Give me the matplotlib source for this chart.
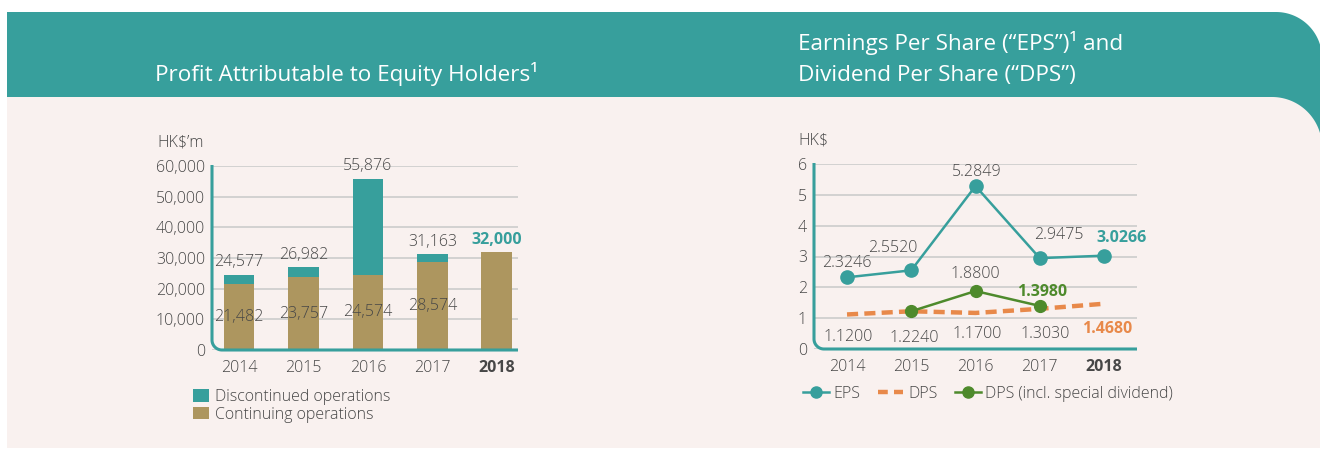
import numpy as np
import matplotlib
matplotlib.use('Agg')
import matplotlib.pyplot as plt
from matplotlib.lines import Line2D
from matplotlib.patches import Polygon, Patch

# --- data ---
years = ['2014', '2015', '2016', '2017', '2018']
total_profit = [24577, 26982, 55876, 31163, 32000]
continuing = [21482, 23757, 24574, 28574, 32000]
discontinued = [t - c for t, c in zip(total_profit, continuing)]

eps = [2.3246, 2.5520, 5.2849, 2.9475, 3.0266]
dps = [1.1200, 1.2240, 1.1700, 1.3030, 1.4680]
dps_special_idx = [1, 2, 3]
dps_special = [1.2240, 1.8800, 1.3980]

# --- style ---
TEAL = '#379f9c'
TAN = '#ad965f'
ORANGE = '#e8894a'
GREEN = '#4e8a2c'
PINK = '#f9f1ef'
GRID = '#cccccc'
TXT = '#474747'

plt.rcParams['font.family'] = ['Open Sans', 'DejaVu Sans']
plt.rcParams['font.weight'] = 'light'
FS = 11.5

W, H = 1320, 449
fig = plt.figure(figsize=(W / 100, H / 100), dpi=100, facecolor='white')


def px_axes(x0, y0, x1, y1, **kw):
    return fig.add_axes([x0 / W, 1 - y1 / H, (x1 - x0) / W, (y1 - y0) / H], **kw)


def round_tr(x0, y0, x1, y1, r):
    # rectangle with rounded top-right corner, pixel coords (y down)
    t = np.linspace(np.pi / 2, 0, 40)
    arc = np.column_stack([x1 - r + r * np.cos(t), y0 + r - r * np.sin(t)])
    return np.vstack([[(x0, y1), (x0, y0)], arc, [(x1, y1)]])


def corner_axis(x0, ytop, ybot, xright, r):
    t = np.linspace(np.pi, np.pi / 2, 30)
    arc = np.column_stack([x0 + r + r * np.cos(t), ybot - r + r * np.sin(t)])
    pts = np.vstack([[(x0, ytop)], arc, [(xright, ybot)]])
    return pts[:, 0], pts[:, 1]


# background banner + panel
bg = fig.add_axes([0, 0, 1, 1], zorder=-10)
bg.set_xlim(0, W)
bg.set_ylim(H, 0)
bg.axis('off')
bg.add_patch(Polygon(round_tr(7, 12, 1322, 150, 46), closed=True, fc=TEAL, ec='none'))
bg.add_patch(Polygon(round_tr(7, 97, 1322, 448, 50), closed=True, fc=PINK, ec='none'))

TFS = 16.2
bg.text(155, 81, 'Profit Attributable to Equity Holders\u00b9', color='white',
        fontsize=TFS, fontweight='normal', ha='left', va='baseline')
bg.text(798, 50, 'Earnings Per Share (\u201cEPS\u201d)\u00b9 and', color='white',
        fontsize=TFS, fontweight='normal', ha='left', va='baseline')
bg.text(798, 81, 'Dividend Per Share (\u201cDPS\u201d)', color='white',
        fontsize=TFS, fontweight='normal', ha='left', va='baseline')

# ---------------- left chart ----------------
ax1 = px_axes(212, 166, 518, 350)
ax1.set_facecolor('none')
x = np.arange(len(years))
ax1.bar(x, continuing, width=0.48, color=TAN, zorder=2)
ax1.bar(x, discontinued, bottom=continuing, width=0.48, color=TEAL, zorder=2)
ax1.set_xlim(-0.419, 4.326)
ax1.set_ylim(0, 60000)
ax1.set_yticks(np.arange(0, 60001, 10000))
ax1.set_yticklabels([f'{v:,}' for v in range(0, 60001, 10000)])
ax1.set_xticks(x)
ax1.set_xticklabels(years)
ax1.get_xticklabels()[-1].set_fontweight('bold')
ax1.tick_params(axis='y', length=0, pad=5, labelsize=FS, labelcolor=TXT)
ax1.tick_params(axis='x', length=0, pad=7, labelsize=FS, labelcolor=TXT)
ax1.yaxis.grid(True, color=GRID, lw=1.2, zorder=0)
ax1.set_axisbelow(True)
for s in ax1.spines.values():
    s.set_visible(False)

for i, (t, c) in enumerate(zip(total_profit, continuing)):
    if i == len(years) - 1:
        ax1.annotate(f'{t:,}', (i, t), xytext=(0, 3), textcoords='offset points',
                     ha='center', va='bottom', fontsize=FS, color=TEAL, fontweight='bold')
    else:
        ax1.annotate(f'{t:,}', (i, t), xytext=(0, 3), textcoords='offset points',
                     ha='center', va='bottom', fontsize=FS, color=TXT)
        ax1.text(i, c / 2, f'{c:,}', ha='center', va='center', fontsize=FS, color=TXT, zorder=3)

lx, ly = corner_axis(212, 165, 350, 518, 10)
ax1.add_line(Line2D(lx, ly, color=TEAL, lw=2.2, transform=bg.transData, clip_on=False,
                    solid_capstyle='butt', zorder=5))
bg.text(157, 146, 'HK$\u2019m', fontsize=FS, color=TXT, ha='left', va='baseline')

fig.legend([Patch(fc=TEAL), Patch(fc=TAN)], ['Discontinued operations', 'Continuing operations'],
           loc='upper left', bbox_to_anchor=(193 / W, 1 - 389 / H), frameon=False,
           handlelength=1.0, handleheight=0.8, handletextpad=0.35, labelspacing=0.1,
           borderpad=0, borderaxespad=0, fontsize=FS, labelcolor=TXT)

# ---------------- right chart ----------------
ax2 = px_axes(814, 164, 1137, 349)
ax2.set_facecolor('none')
ax2.plot(x, dps, color=ORANGE, lw=3.2, dashes=(2.5, 1.4), solid_capstyle='butt',
         dash_capstyle='butt', zorder=3)
ax2.plot(x, eps, color=TEAL, lw=1.8, marker='o', ms=9.5, zorder=4)
ax2.plot(dps_special_idx, dps_special, color=GREEN, lw=1.8, marker='o', ms=8.5, zorder=5)
ax2.set_xlim(-0.514, 4.514)
ax2.set_ylim(0, 6)
ax2.set_yticks(range(0, 7))
ax2.set_xticks(x)
ax2.set_xticklabels(years)
ax2.get_xticklabels()[-1].set_fontweight('bold')
ax2.tick_params(axis='y', length=0, pad=5, labelsize=FS, labelcolor=TXT)
ax2.tick_params(axis='x', length=0, pad=7, labelsize=FS, labelcolor=TXT)
ax2.yaxis.grid(True, color=GRID, lw=1.2, zorder=0)
ax2.set_axisbelow(True)
for s in ax2.spines.values():
    s.set_visible(False)

# label offsets in points (dx, dy) relative to each point
eps_off = [(0, 10), (-13, 16), (1, 10), (14, 17), (13, 13)]
dps_off = [(1, -16), (2, -19), (1, -15), (4, -18), (2, -18)]
for i, v in enumerate(eps):
    bold = i == len(eps) - 1
    ax2.annotate(f'{v:.4f}', (i, v), xytext=eps_off[i], textcoords='offset points',
                 ha='center', va='center', fontsize=FS,
                 color=TEAL if bold else TXT, fontweight='bold' if bold else 'light')
for i, v in enumerate(dps):
    bold = i == len(dps) - 1
    ax2.annotate(f'{v:.4f}', (i, v), xytext=dps_off[i], textcoords='offset points',
                 ha='center', va='center', fontsize=FS,
                 color=ORANGE if bold else TXT, fontweight='bold' if bold else 'light')
sp_off = {2: (0, 12), 3: (2, 10)}
for i, v in zip(dps_special_idx, dps_special):
    if i not in sp_off:
        continue
    bold = i == 3
    ax2.annotate(f'{v:.4f}', (i, v), xytext=sp_off[i], textcoords='offset points',
                 ha='center', va='center', fontsize=FS,
                 color=GREEN if bold else TXT, fontweight='bold' if bold else 'light')

rx, ry = corner_axis(814, 163, 349, 1137, 10)
ax2.add_line(Line2D(rx, ry, color=TEAL, lw=2.2, transform=bg.transData, clip_on=False,
                    solid_capstyle='butt', zorder=6))
bg.text(798, 144, 'HK$', fontsize=FS, color=TXT, ha='left', va='baseline')

handles = [
    Line2D([], [], color=TEAL, lw=1.8, marker='o', ms=8),
    Line2D([], [], color=ORANGE, lw=3.2, dashes=(2.2, 1.4), dash_capstyle='butt'),
    Line2D([], [], color=GREEN, lw=1.8, marker='o', ms=8),
]
fig.legend(handles, ['EPS', 'DPS', 'DPS (incl. special dividend)'], ncol=3,
           loc='upper left', bbox_to_anchor=(803 / W, 1 - 386 / H), frameon=False,
           handlelength=1.6, handletextpad=0.3, columnspacing=1.1,
           borderpad=0, borderaxespad=0, fontsize=FS, labelcolor=TXT)

fig.savefig('out.png', dpi=100, facecolor='white')
